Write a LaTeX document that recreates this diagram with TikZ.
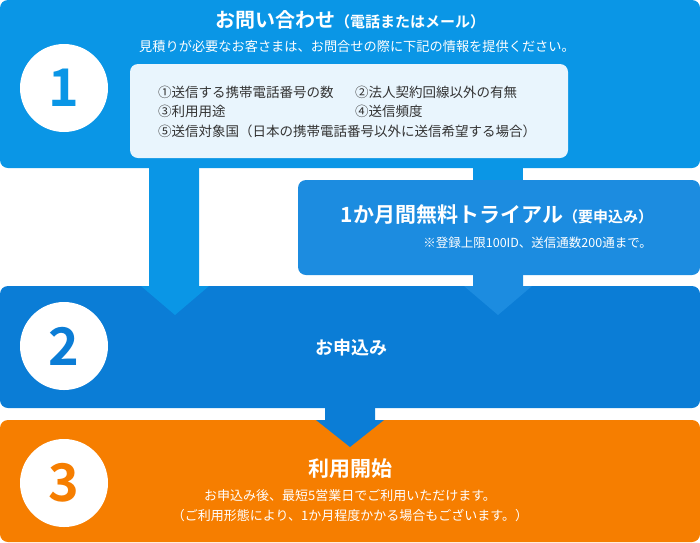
\documentclass[tikz,border=0pt]{standalone}
\usepackage{fontspec}
\setmainfont{Noto Sans CJK JP}[BoldFont={* Bold}]
\begin{document}
\begin{tikzpicture}[x=1pt,y=-1pt,
  num/.style={circle,fill=white,minimum size=88pt,inner sep=0pt,font=\bfseries\fontsize{52}{52}\selectfont},
  wt/.style={text=white,inner sep=0pt}]
\definecolor{cA}{HTML}{0A96E6}
\definecolor{cB}{HTML}{1C8CE0}
\definecolor{cC}{HTML}{0B7DD6}
\definecolor{cD}{HTML}{F67E00}
\definecolor{cL}{HTML}{E9F5FD}
\useasboundingbox (0,0) rectangle (700,542);
% boxes
\fill[cA,rounded corners=8pt] (0,0) rectangle (700,168);
\fill[cA] (473,160) rectangle (523,182);
\fill[cB,rounded corners=8pt] (298,180) rectangle (700,275);
\fill[cC,rounded corners=8pt] (0,286) rectangle (700,408);
\fill[cD,rounded corners=8pt] (0,420) rectangle (700,542);
% arrows
\fill[cA] (149,160) -- (199,160) -- (199,286) -- (209,286) -- (175,315) -- (141,286) -- (149,286) -- cycle;
\fill[cB] (473,270) -- (523,270) -- (523,286) -- (532,286) -- (498,315) -- (464,286) -- (473,286) -- cycle;
\fill[cC] (325,400) -- (375,400) -- (375,420) -- (384,420) -- (350,447) -- (316,420) -- (325,420) -- cycle;
% inner light box
\fill[cL,rounded corners=8pt] (130,64) rectangle (568,158);
% circles
\node[num,text=cA] (n1) at (64,88) {1};
\node[num,text=cC] (n2) at (64,346) {2};
\node[num,text=cD] (n3) at (64,483) {3};
% texts
\node[wt,font=\bfseries] (t1) at (350,20) {\fontsize{20}{24}\selectfont お問い合わせ\fontsize{15}{18}\selectfont（電話またはメール）};
\node[wt,font=\fontsize{13.2}{15}\selectfont] (s1) at (357,46) {見積りが必要なお客さまは、お問合せの際に下記の情報を提供ください。};
\begin{scope}[every node/.style={anchor=west,inner sep=0pt,text=black!80,font=\fontsize{13.5}{15}\selectfont}]
\node (l1) at (158,92) {①送信する携帯電話番号の数};
\node (l2) at (355,92) {②法人契約回線以外の有無};
\node (l3) at (158,111) {③利用用途};
\node (l4) at (355,111) {④送信頻度};
\node (l5) at (158,131) {⑤送信対象国（日本の携帯電話番号以外に送信希望する場合）};
\end{scope}
\node[wt,font=\bfseries] (t2) at (497,215) {\fontsize{21}{24}\selectfont 1か月間無料トライアル\fontsize{15}{18}\selectfont（要申込み）};
\node[wt,anchor=east,font=\fontsize{12.5}{14}\selectfont] (s2) at (652,243) {※登録上限100ID、送信通数200通まで。};
\node[wt,font=\bfseries\fontsize{18}{20}\selectfont] (t3) at (351,348) {お申込み};
\node[wt,font=\bfseries\fontsize{21}{24}\selectfont] (t4) at (350,469) {利用開始};
\node[wt,font=\fontsize{13}{15}\selectfont] (s4) at (350,496) {お申込み後、最短5営業日でご利用いただけます。};
\node[wt,font=\fontsize{13}{15}\selectfont] (s5) at (350,516) {（ご利用形態により、1か月程度かかる場合もございます。）};
\end{tikzpicture}
\end{document}
